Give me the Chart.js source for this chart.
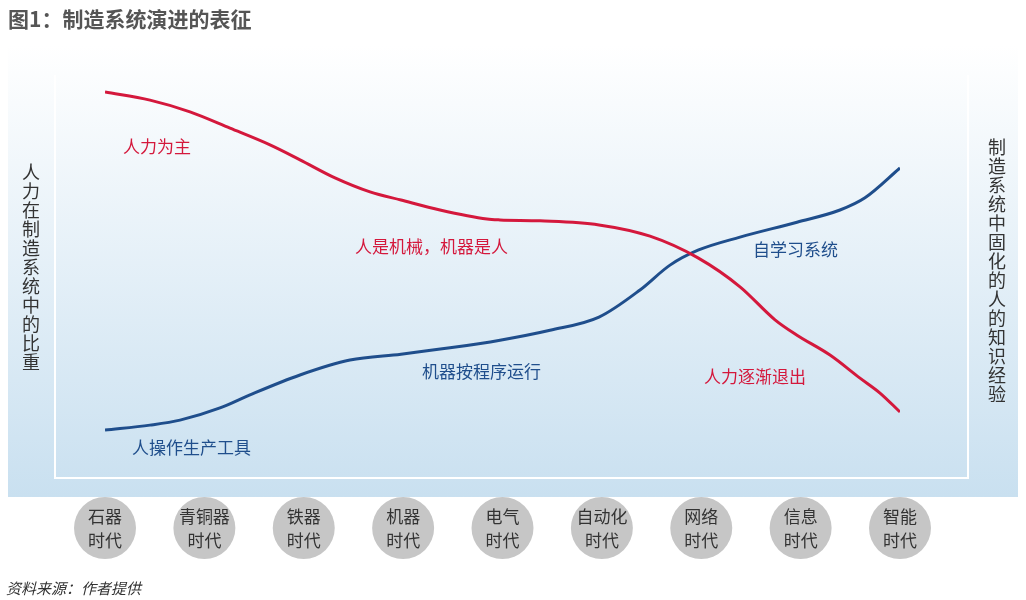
<!DOCTYPE html><html><head><meta charset="utf-8">
<script src="https://cdn.jsdelivr.net/npm/chart.js@4"></script>
<style>
body{margin:0;width:1026px;height:600px;background:#fff;font-family:"Noto Sans CJK SC",sans-serif;position:relative;overflow:hidden}
.t{position:absolute;white-space:nowrap;font-size:17px}
.r{color:#d4183c}.b{color:#1f4e8c}
.v{position:absolute;writing-mode:vertical-rl;font-size:18px;color:#333;letter-spacing:1px}
canvas{position:absolute;left:0;top:0}
</style></head><body>
<canvas id="c" width="1026" height="600"></canvas>
<div class="t" style="left:8px;top:3px;font-size:21px;font-weight:bold;color:#555">图1：制造系统演进的表征</div>
<div class="v" style="left:18px;top:163px">人力在制造系统中的比重</div>
<div class="v" style="left:984px;top:138px">制造系统中固化的人的知识经验</div>
<div class="t r" style="left:123px;top:133px">人力为主</div>
<div class="t r" style="left:355px;top:233px">人是机械，机器是人</div>
<div class="t r" style="left:704px;top:363px">人力逐渐退出</div>
<div class="t b" style="left:132px;top:434px">人操作生产工具</div>
<div class="t b" style="left:422px;top:358px">机器按程序运行</div>
<div class="t b" style="left:753px;top:236px">自学习系统</div>
<div class="t" style="left:6px;top:577px;font-size:15px;font-style:italic;color:#333">资料来源：作者提供</div>
<script>
const eras=[["石器","时代"],["青铜器","时代"],["铁器","时代"],["机器","时代"],["电气","时代"],["自动化","时代"],["网络","时代"],["信息","时代"],["智能","时代"]];
const redX=[105,150,190,230,270,300,335,370,401,440,487,500,540,599,650,698,740,775,797,830,860,880,900];
const redY=[89.6,87.8,85.2,81.6,77.9,74.6,70.6,67.5,65.7,63.5,61.5,61.3,61.1,60.2,57.7,52.9,46.5,39.2,35.8,31.4,26.3,23.0,18.8];
const blueX=[105,150,180,220,250,300,350,401,450,500,550,599,640,670,698,740,797,840,865,900];
const blueY=[14.8,15.9,17.0,19.7,22.6,27.0,30.3,31.6,33.0,34.7,36.9,39.8,45.8,51.3,54.6,57.5,60.8,63.5,66.2,72.8];
const toEra=p=>(p-105)/99.375;
const mk=(xs,ys)=>xs.map((x,i)=>({x:toEra(x),y:ys[i]}));
const bg={id:'bg',beforeDraw(ch){const c=ch.ctx;const g=c.createLinearGradient(0,45,0,497);g.addColorStop(0,'#ffffff');g.addColorStop(1,'#c9e0f0');c.fillStyle=g;c.fillRect(8,45,1010,452);
c.strokeStyle='#ffffff';c.lineWidth=2;c.beginPath();c.moveTo(55,75);c.lineTo(55,478);c.lineTo(968,478);c.lineTo(968,75);c.stroke();},
afterDraw(ch){const c=ch.ctx,xs=ch.scales.x;eras.forEach((e,i)=>{const x=xs.getPixelForValue(i);c.fillStyle='#c6c6c6';c.beginPath();c.arc(x,528,31,0,Math.PI*2);c.fill();c.fillStyle='#333';c.font='17px "Noto Sans CJK SC"';c.textAlign='center';c.textBaseline='middle';c.fillText(e[0],x,517);c.fillText(e[1],x,541);});}};
new Chart(document.getElementById('c'),{type:'line',data:{datasets:[
{data:mk(redX,redY),borderColor:'#d4183c',borderWidth:3,pointRadius:0,tension:0.4,cubicInterpolationMode:'monotone'},
{data:mk(blueX,blueY),borderColor:'#1f4e8c',borderWidth:3,pointRadius:0,tension:0.4,cubicInterpolationMode:'monotone'}]},
options:{responsive:false,animation:false,layout:{padding:{left:105,right:126,top:45,bottom:103}},
plugins:{legend:{display:false},tooltip:{enabled:false}},
scales:{x:{type:'linear',min:0,max:8,display:false},y:{min:0,max:100,display:false}}},plugins:[bg]});
</script></body></html>
